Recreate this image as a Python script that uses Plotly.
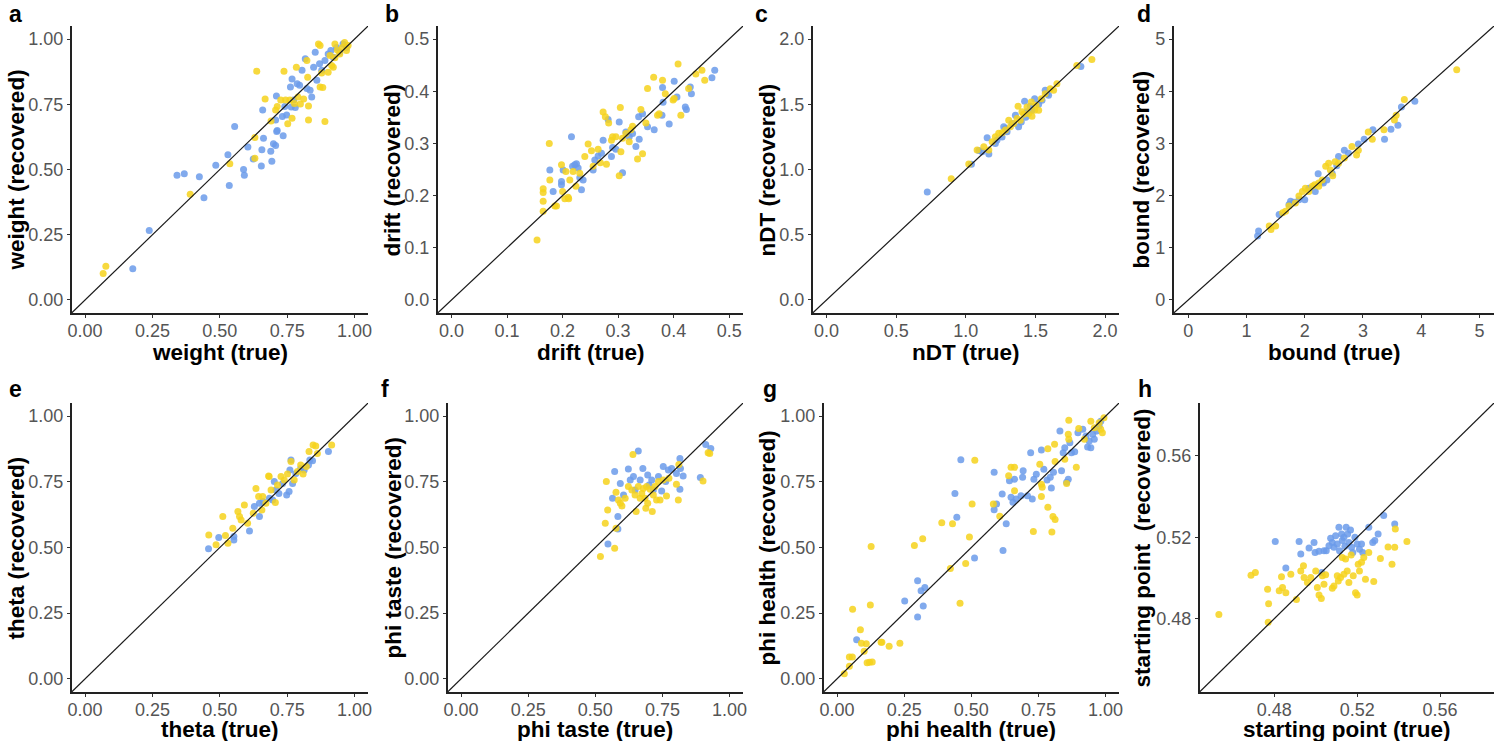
import plotly.graph_objects as go

# recovered vs true parameter values, two simulated groups (blue / yellow)
weight_blue = [[0.238,0.266],[0.177,0.12],[0.341,0.478],[0.368,0.484],[0.424,0.472],[0.441,0.392],[0.485,0.516],[0.53,0.557],[0.535,0.439],[0.555,0.665],[0.588,0.5],[0.591,0.478],[0.604,0.586],[0.624,0.54],[0.654,0.513],[0.656,0.576],[0.662,0.62],[0.659,0.728],[0.689,0.57],[0.693,0.532],[0.699,0.599],[0.707,0.592],[0.707,0.69],[0.71,0.782],[0.713,0.649],[0.711,0.646],[0.732,0.703],[0.735,0.629],[0.741,0.741],[0.748,0.709],[0.765,0.74],[0.762,0.816],[0.768,0.847],[0.774,0.766],[0.78,0.738],[0.787,0.829],[0.796,0.823],[0.805,0.88],[0.817,0.924],[0.823,0.81],[0.835,0.804],[0.841,0.778],[0.848,0.892],[0.854,0.949],[0.86,0.842],[0.87,0.905],[0.878,0.88],[0.89,0.918],[0.902,0.943],[0.912,0.956],[0.921,0.93],[0.933,0.968],[0.945,0.949],[0.957,0.981],[0.97,0.968]]
weight_yellow = [[0.067,0.101],[0.077,0.129],[0.39,0.405],[0.537,0.522],[0.63,0.623],[0.63,0.543],[0.637,0.877],[0.668,0.77],[0.69,0.686],[0.707,0.728],[0.713,0.741],[0.726,0.766],[0.738,0.877],[0.744,0.766],[0.752,0.675],[0.76,0.766],[0.768,0.696],[0.777,0.753],[0.784,0.892],[0.79,0.778],[0.799,0.751],[0.811,0.77],[0.823,0.918],[0.826,0.854],[0.829,0.743],[0.829,0.69],[0.866,0.981],[0.872,0.975],[0.872,0.816],[0.882,0.814],[0.878,0.87],[0.89,0.684],[0.902,0.873],[0.909,0.937],[0.915,0.899],[0.921,0.892],[0.927,0.981],[0.927,0.928],[0.936,0.958],[0.945,0.943],[0.955,0.968],[0.963,0.987],[0.97,0.956],[0.976,0.975]]

drift_blue = [[0.177,0.249],[0.183,0.208],[0.198,0.227],[0.198,0.221],[0.201,0.249],[0.216,0.313],[0.218,0.256],[0.222,0.259],[0.225,0.261],[0.228,0.253],[0.231,0.234],[0.234,0.211],[0.237,0.23],[0.255,0.249],[0.258,0.268],[0.264,0.276],[0.27,0.281],[0.273,0.306],[0.282,0.346],[0.288,0.275],[0.29,0.292],[0.296,0.289],[0.302,0.341],[0.308,0.244],[0.314,0.322],[0.32,0.313],[0.326,0.319],[0.332,0.294],[0.337,0.351],[0.338,0.308],[0.344,0.357],[0.353,0.332],[0.365,0.326],[0.379,0.354],[0.38,0.407],[0.381,0.379],[0.392,0.337],[0.401,0.419],[0.406,0.389],[0.421,0.37],[0.423,0.365],[0.43,0.408],[0.432,0.395],[0.469,0.426],[0.474,0.44]]
drift_yellow = [[0.154,0.115],[0.165,0.17],[0.165,0.189],[0.165,0.206],[0.165,0.213],[0.176,0.3],[0.177,0.23],[0.186,0.18],[0.189,0.18],[0.198,0.259],[0.2,0.208],[0.204,0.194],[0.21,0.197],[0.211,0.194],[0.206,0.246],[0.213,0.23],[0.219,0.246],[0.224,0.218],[0.231,0.243],[0.24,0.275],[0.246,0.299],[0.252,0.286],[0.255,0.256],[0.264,0.289],[0.268,0.263],[0.273,0.36],[0.277,0.351],[0.279,0.26],[0.283,0.339],[0.288,0.306],[0.29,0.313],[0.296,0.313],[0.302,0.238],[0.304,0.369],[0.305,0.284],[0.308,0.31],[0.314,0.319],[0.32,0.303],[0.323,0.326],[0.326,0.333],[0.335,0.27],[0.341,0.365],[0.344,0.28],[0.35,0.339],[0.353,0.405],[0.364,0.427],[0.371,0.354],[0.374,0.357],[0.38,0.421],[0.385,0.395],[0.399,0.383],[0.401,0.386],[0.408,0.452],[0.413,0.354],[0.427,0.405],[0.44,0.433],[0.451,0.44],[0.456,0.421]]

ndt_blue = [[0.723,0.827],[1.04,1.04],[1.093,1.145],[1.117,1.137],[1.153,1.244],[1.165,1.119],[1.212,1.2],[1.224,1.226],[1.26,1.25],[1.272,1.327],[1.284,1.315],[1.296,1.289],[1.332,1.353],[1.356,1.416],[1.379,1.327],[1.398,1.365],[1.422,1.523],[1.43,1.4],[1.439,1.442],[1.463,1.485],[1.475,1.454],[1.494,1.543],[1.523,1.5],[1.547,1.53],[1.57,1.607],[1.582,1.581],[1.594,1.569],[1.826,1.789]]
ndt_yellow = [[0.895,0.929],[1.021,1.043],[1.081,1.15],[1.129,1.175],[1.165,1.15],[1.189,1.213],[1.212,1.251],[1.236,1.277],[1.26,1.282],[1.284,1.302],[1.308,1.378],[1.32,1.327],[1.344,1.353],[1.368,1.391],[1.375,1.485],[1.391,1.378],[1.403,1.442],[1.415,1.424],[1.439,1.48],[1.451,1.429],[1.47,1.518],[1.475,1.409],[1.494,1.454],[1.504,1.492],[1.523,1.454],[1.542,1.543],[1.57,1.581],[1.606,1.619],[1.63,1.607],[1.654,1.657],[1.797,1.797],[1.905,1.843]]

bound_blue = [[1.19,1.225],[1.207,1.32],[1.56,1.64],[1.73,1.83],[1.757,1.89],[1.814,1.87],[1.9,1.92],[2.0,1.92],[2.07,2.14],[2.18,2.08],[2.23,2.42],[2.3,2.27],[2.32,2.24],[2.38,2.3],[2.47,2.43],[2.55,2.57],[2.58,2.75],[2.68,2.87],[2.75,2.81],[2.92,2.99],[3.02,3.08],[3.17,3.26],[3.37,3.08],[3.48,3.27],[3.6,3.35],[3.66,3.7],[3.89,3.81]]
bound_yellow = [[1.39,1.415],[1.42,1.35],[1.5,1.415],[1.62,1.67],[1.67,1.7],[1.73,1.8],[1.84,1.86],[1.9,1.99],[1.96,2.08],[2.01,2.14],[2.07,2.08],[2.13,2.18],[2.17,2.21],[2.24,2.24],[2.24,2.18],[2.3,2.3],[2.36,2.56],[2.41,2.62],[2.44,2.49],[2.48,2.38],[2.52,2.65],[2.58,2.62],[2.68,2.72],[2.81,2.94],[2.89,2.78],[2.92,2.87],[3.09,3.22],[3.16,3.08],[3.36,3.26],[3.54,3.45],[3.57,3.54],[3.71,3.84],[4.61,4.41]]

theta_blue = [[0.458,0.495],[0.496,0.538],[0.552,0.542],[0.552,0.529],[0.61,0.563],[0.628,0.656],[0.647,0.618],[0.647,0.668],[0.66,0.675],[0.684,0.687],[0.696,0.681],[0.702,0.751],[0.708,0.719],[0.719,0.706],[0.733,0.744],[0.748,0.7],[0.757,0.713],[0.76,0.795],[0.764,0.833],[0.77,0.744],[0.782,0.782],[0.8,0.801],[0.813,0.795],[0.829,0.814],[0.834,0.833],[0.844,0.83],[0.903,0.865]]
theta_yellow = [[0.459,0.548],[0.486,0.51],[0.511,0.618],[0.521,0.546],[0.53,0.516],[0.548,0.573],[0.567,0.637],[0.573,0.618],[0.579,0.605],[0.591,0.662],[0.603,0.592],[0.624,0.63],[0.634,0.725],[0.644,0.694],[0.656,0.643],[0.659,0.694],[0.671,0.668],[0.681,0.772],[0.683,0.77],[0.69,0.719],[0.706,0.671],[0.714,0.738],[0.727,0.77],[0.739,0.757],[0.751,0.78],[0.764,0.827],[0.776,0.757],[0.788,0.789],[0.8,0.814],[0.809,0.78],[0.821,0.808],[0.831,0.865],[0.846,0.89],[0.856,0.886],[0.862,0.858],[0.915,0.89]]

taste_blue = [[0.547,0.513],[0.564,0.687],[0.572,0.789],[0.584,0.618],[0.584,0.57],[0.593,0.744],[0.605,0.7],[0.623,0.799],[0.63,0.757],[0.642,0.77],[0.648,0.719],[0.66,0.867],[0.667,0.757],[0.677,0.801],[0.695,0.776],[0.7,0.738],[0.71,0.757],[0.716,0.719],[0.735,0.77],[0.747,0.715],[0.753,0.808],[0.762,0.751],[0.772,0.795],[0.784,0.801],[0.802,0.782],[0.815,0.839],[0.817,0.801],[0.815,0.722],[0.827,0.772],[0.891,0.766],[0.911,0.892],[0.93,0.877]]
taste_yellow = [[0.519,0.466],[0.537,0.592],[0.541,0.751],[0.546,0.643],[0.572,0.497],[0.577,0.573],[0.577,0.71],[0.586,0.681],[0.593,0.668],[0.599,0.658],[0.611,0.687],[0.623,0.732],[0.636,0.719],[0.64,0.854],[0.648,0.7],[0.652,0.637],[0.66,0.732],[0.667,0.687],[0.673,0.706],[0.679,0.725],[0.685,0.687],[0.688,0.649],[0.691,0.732],[0.695,0.668],[0.704,0.722],[0.712,0.637],[0.716,0.7],[0.722,0.732],[0.728,0.681],[0.735,0.751],[0.741,0.681],[0.753,0.757],[0.765,0.696],[0.774,0.764],[0.802,0.741],[0.809,0.681],[0.811,0.816],[0.901,0.753],[0.92,0.861],[0.926,0.858]]

health_blue = [[0.073,0.149],[0.252,0.296],[0.3,0.373],[0.3,0.235],[0.313,0.335],[0.321,0.277],[0.327,0.348],[0.439,0.706],[0.446,0.615],[0.461,0.834],[0.512,0.46],[0.585,0.644],[0.585,0.786],[0.594,0.666],[0.615,0.704],[0.618,0.489],[0.63,0.59],[0.642,0.754],[0.648,0.691],[0.655,0.672],[0.661,0.76],[0.667,0.685],[0.685,0.697],[0.691,0.767],[0.693,0.792],[0.709,0.697],[0.721,0.861],[0.727,0.685],[0.733,0.76],[0.742,0.779],[0.761,0.871],[0.77,0.798],[0.782,0.757],[0.794,0.767],[0.798,0.726],[0.806,0.786],[0.83,0.943],[0.836,0.792],[0.842,0.861],[0.848,0.88],[0.855,0.748],[0.861,0.76],[0.867,0.899],[0.873,0.861],[0.885,0.864],[0.897,0.937],[0.915,0.95],[0.927,0.924],[0.933,0.883],[0.939,0.905],[0.945,0.88],[0.952,0.931],[0.958,0.912],[0.967,0.943],[0.976,0.962],[0.982,0.981]]
health_yellow = [[0.027,0.019],[0.046,0.048],[0.046,0.083],[0.057,0.083],[0.058,0.265],[0.087,0.187],[0.091,0.136],[0.101,0.105],[0.109,0.134],[0.112,0.061],[0.121,0.063],[0.124,0.281],[0.127,0.504],[0.131,0.064],[0.164,0.139],[0.167,0.139],[0.194,0.124],[0.234,0.136],[0.288,0.508],[0.319,0.533],[0.39,0.594],[0.43,0.59],[0.422,0.42],[0.458,0.288],[0.479,0.439],[0.493,0.54],[0.503,0.666],[0.513,0.832],[0.582,0.666],[0.606,0.619],[0.639,0.773],[0.648,0.805],[0.661,0.805],[0.661,0.716],[0.731,0.561],[0.755,0.817],[0.761,0.741],[0.761,0.694],[0.764,0.729],[0.785,0.653],[0.785,0.876],[0.8,0.559],[0.804,0.618],[0.81,0.893],[0.812,0.607],[0.812,0.827],[0.848,0.836],[0.855,0.744],[0.861,0.931],[0.863,0.984],[0.863,0.912],[0.891,0.805],[0.9,0.953],[0.921,0.912],[0.945,0.981],[0.958,0.956],[0.976,0.975],[0.982,0.95],[0.988,0.937],[0.994,0.994]]

start_blue = [[0.4805,0.5179],[0.4856,0.5049],[0.492,0.5179],[0.4928,0.5118],[0.4968,0.5147],[0.4992,0.5175],[0.4997,0.5126],[0.5016,0.5131],[0.5029,0.5027],[0.504,0.5134],[0.5051,0.5134],[0.5064,0.5159],[0.5072,0.5195],[0.508,0.5175],[0.5088,0.5151],[0.5096,0.5208],[0.5104,0.5167],[0.5112,0.5249],[0.5115,0.5134],[0.5125,0.5216],[0.5128,0.5184],[0.5136,0.52],[0.5141,0.5156],[0.5147,0.5249],[0.5154,0.5216],[0.516,0.5175],[0.5168,0.5236],[0.5173,0.5151],[0.5179,0.5126],[0.5189,0.52],[0.52,0.5167],[0.5211,0.5142],[0.5221,0.5167],[0.5227,0.5126],[0.5256,0.5249],[0.5275,0.5175],[0.5285,0.5184],[0.5301,0.5216],[0.5328,0.5307],[0.5381,0.5266]]
start_yellow = [[0.4533,0.4821],[0.4688,0.5014],[0.4709,0.5027],[0.4768,0.4945],[0.4773,0.4874],[0.4771,0.4783],[0.4824,0.4937],[0.4835,0.5006],[0.484,0.4953],[0.4856,0.4928],[0.488,0.5019],[0.4907,0.4895],[0.4928,0.5035],[0.4941,0.506],[0.4944,0.5002],[0.496,0.4978],[0.4976,0.5002],[0.5,0.5035],[0.5008,0.4953],[0.5016,0.4917],[0.5027,0.49],[0.5032,0.5011],[0.504,0.497],[0.5048,0.5016],[0.508,0.495],[0.5088,0.4961],[0.5104,0.5011],[0.5109,0.4986],[0.512,0.5002],[0.5128,0.5101],[0.5136,0.5019],[0.5144,0.5093],[0.5152,0.5035],[0.516,0.4978],[0.5171,0.5113],[0.5181,0.5011],[0.5192,0.4928],[0.52,0.4917],[0.5205,0.5068],[0.5211,0.5035],[0.5221,0.5077],[0.5232,0.5101],[0.524,0.4994],[0.5256,0.5126],[0.528,0.4983],[0.5312,0.5096],[0.5349,0.5152],[0.5368,0.5068],[0.5381,0.5151],[0.5384,0.5241],[0.544,0.518]]

letters = ["a", "b", "c", "d", "e", "f", "g", "h"]
names = ["weight", "drift", "nDT", "bound", "theta", "phi taste", "phi health", "starting point"]
blues = [weight_blue, drift_blue, ndt_blue, bound_blue, theta_blue, taste_blue, health_blue, start_blue]
yellows = [weight_yellow, drift_yellow, ndt_yellow, bound_yellow, theta_yellow, taste_yellow, health_yellow, start_yellow]
ranges = [(-0.05, 1.05), (-0.025, 0.525), (-0.1, 2.1), (-0.25, 5.25),
          (-0.05, 1.05), (-0.05, 1.05), (-0.05, 1.05), (0.444, 0.586)]
tickvals = [[0, 0.25, 0.5, 0.75, 1], [0, 0.1, 0.2, 0.3, 0.4, 0.5], [0, 0.5, 1, 1.5, 2], [0, 1, 2, 3, 4, 5],
            [0, 0.25, 0.5, 0.75, 1], [0, 0.25, 0.5, 0.75, 1], [0, 0.25, 0.5, 0.75, 1], [0.48, 0.52, 0.56]]
tickfmt = [".2f", ".1f", ".1f", "d", ".2f", ".2f", ".2f", ".2f"]

W, H = 1500, 741
BLUE = "#6B9BEA"
YELLOW = "#F6D21C"
FONT = "Liberation Sans, Arial, sans-serif"

# plot boxes in pixels: left, top, right, bottom
boxes = [(68, 26, 366, 313), (436, 26, 743, 313), (813, 26, 1121, 313), (1176, 26, 1498, 313),
         (68, 403, 366, 692), (446, 403, 743, 692), (824, 403, 1121, 692), (1202, 403, 1498, 692)]
letter_pos = [(3, 14), (381, 14), (753, 14), (1137, 14), (3, 389), (377, 389), (761, 389), (1138, 389)]
ytitle_x = [13, 391, 768, 1144, 13, 392, 768, 1145]
xtitle_y = [353, 353, 353, 353, 729, 729, 729, 729]


def px(x):
    return x / W


def py(y):
    return 1 - y / H


fig = go.Figure()
annotations = []
for i in range(8):
    n = i + 1
    xa = "x" if n == 1 else "x%d" % n
    ya = "y" if n == 1 else "y%d" % n
    for pts, col in [(blues[i], BLUE), (yellows[i], YELLOW)]:
        fig.add_trace(go.Scatter(
            x=[p[0] for p in pts], y=[p[1] for p in pts], mode="markers",
            marker=dict(color=col, size=7, opacity=0.85, line=dict(width=0)),
            xaxis=xa, yaxis=ya, showlegend=False, hoverinfo="skip"))
    lo, hi = ranges[i]
    fig.add_trace(go.Scatter(x=[lo, hi], y=[lo, hi], mode="lines",
                             line=dict(color="#1a1a1a", width=1.2),
                             xaxis=xa, yaxis=ya, showlegend=False, hoverinfo="skip"))

    l, t, r, b = boxes[i]
    axis_style = dict(range=[lo, hi], showgrid=False, zeroline=False, showline=True,
                      linecolor="#222222", linewidth=1.5, ticks="outside", ticklen=3,
                      tickcolor="#333333", tickwidth=1, tickvals=tickvals[i],
                      tickformat=tickfmt[i], tickfont=dict(family=FONT, size=18, color="#555555"))
    fig.layout["xaxis" if n == 1 else "xaxis%d" % n] = dict(
        domain=[px(l), px(r)], anchor=ya, ticklabelstandoff=-2, **axis_style)
    fig.layout["yaxis" if n == 1 else "yaxis%d" % n] = dict(
        domain=[py(b), py(t)], anchor=xa, **axis_style)

    ylab = names[i] + ("  (recovered)" if names[i] == "starting point" else " (recovered)")
    annotations.append(dict(text="<b>%s</b>" % letters[i], x=px(letter_pos[i][0]), y=py(letter_pos[i][1]),
                            xref="paper", yref="paper", xanchor="left", yanchor="middle", showarrow=False,
                            font=dict(family=FONT, size=23, color="black")))
    annotations.append(dict(text="<b>%s (true)</b>" % names[i], x=px((l + r) / 2), y=py(xtitle_y[i]),
                            xref="paper", yref="paper", xanchor="center", yanchor="middle", showarrow=False,
                            borderpad=0, font=dict(family=FONT, size=22.5, color="black")))
    annotations.append(dict(text="<b>%s</b>" % ylab, x=px(ytitle_x[i]), y=py((t + b) / 2),
                            xref="paper", yref="paper", xanchor="center", yanchor="middle", showarrow=False,
                            textangle=-90, font=dict(family=FONT, size=22.5, color="black")))

fig.update_layout(width=W, height=H, margin=dict(l=0, r=0, t=0, b=0),
                  plot_bgcolor="white", paper_bgcolor="white", annotations=annotations)
# page body has a default margin that would push the fixed-size figure off the window
fig.write_html("out.html", config={"displayModeBar": False},
               post_script="document.body.style.margin='0';")
